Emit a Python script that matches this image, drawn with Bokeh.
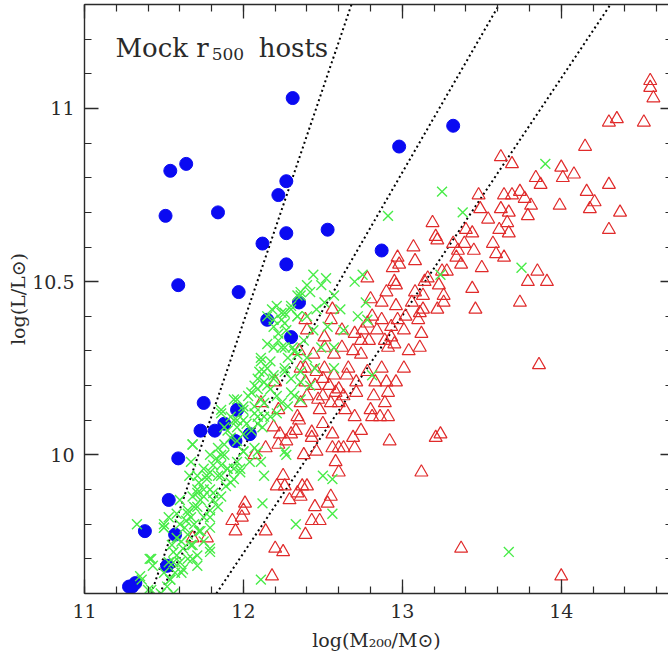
from bokeh.plotting import figure
from bokeh.models import LinearAxis, FixedTicker, CustomJSTickFormatter, Label
from bokeh.embed import file_html
from bokeh.resources import INLINE
import numpy as np

# ---------------- data ----------------
x_major_ticks = [11, 12, 13, 14]
y_major_ticks = [10, 10.5, 11]

blue_x = [12.31, 11.54, 11.64, 12.27, 12.22, 11.51, 11.84, 12.27, 12.53, 12.12,
          12.27, 11.59, 11.97, 12.35, 12.15, 13.32, 12.98, 12.87, 12.30, 11.75,
          11.96, 11.88, 11.73, 11.82, 11.95, 12.04, 11.59, 11.53, 11.38, 11.57,
          11.52, 11.28, 11.32, 11.30]
blue_y = [11.03, 10.82, 10.84, 10.79, 10.75, 10.69, 10.70, 10.64, 10.65, 10.61,
          10.55, 10.49, 10.47, 10.44, 10.39, 10.95, 10.89, 10.59, 10.34, 10.15,
          10.13, 10.09, 10.07, 10.07, 10.04, 10.06, 9.99, 9.87, 9.78, 9.77,
          9.68, 9.62, 9.63, 9.62]

green_x = [11.33, 11.41, 11.43, 11.36, 11.50, 11.53, 11.58, 11.60, 11.65, 11.68,
           11.71, 11.73, 11.75, 11.72, 11.69, 11.67, 11.64, 11.60, 11.65, 11.68,
           11.62, 11.56, 11.60, 11.57, 11.54, 11.52, 11.48, 11.42, 11.79, 11.79,
           11.84, 11.81, 11.79, 11.77, 11.79, 11.84, 11.86, 11.83, 11.88, 11.90,
           11.92, 11.89, 11.86, 11.75, 11.71, 11.67, 11.66, 11.79, 11.84, 11.88,
           11.92, 11.96, 12.00, 12.05, 12.09, 12.07, 12.00, 11.96, 11.98, 11.94,
           12.11, 12.13, 12.12, 12.11, 12.27, 12.33, 11.94, 12.00, 11.90, 11.96,
           12.12, 12.17, 11.72, 11.53, 11.58, 11.55, 11.50, 11.56, 11.71, 11.79,
           11.68, 11.75,
           12.34, 12.21, 12.26, 12.30, 12.34, 12.24, 12.19, 12.27, 12.22, 12.26,
           12.31, 12.19, 12.28, 12.34, 12.11, 12.15, 12.10, 12.19, 12.26, 12.30,
           12.13, 12.09, 12.17, 12.05, 11.96, 12.00, 12.07, 12.13, 12.21, 12.30,
           12.28, 12.21, 11.86, 11.92, 12.09, 12.15, 12.18,
           12.44, 12.52, 12.40, 12.49, 12.36, 12.42, 12.57, 12.70, 12.75, 12.61,
           12.51, 12.46, 12.40, 12.44, 12.53, 12.38, 12.49, 12.40, 12.45, 12.57,
           12.72, 12.77, 12.78, 13.24, 12.36, 12.42, 12.36, 12.81, 12.63,
           13.90, 13.25, 12.91, 13.38, 13.75,
           13.67, 12.56, 12.56, 12.57, 12.50, 11.50, 11.35, 11.40, 11.68, 11.86,
           12.26, 12.04, 12.09, 11.62,
           12.36, 12.30, 12.24, 12.19, 12.26, 12.34, 12.22, 12.15, 12.24, 12.32,
           12.11, 12.17, 12.13, 12.09, 12.19, 12.26, 12.07, 12.15, 12.03, 12.11,
           12.00, 12.07, 11.94, 11.96, 12.13, 12.24, 12.32, 12.02, 11.88, 12.36,
           11.68, 11.86, 11.81, 11.90, 11.77, 11.86, 11.94, 11.71, 11.75, 11.81,
           11.71, 11.65, 11.75, 11.79, 11.63, 11.69, 11.73, 11.61, 11.67, 11.58,
           11.65, 11.56, 11.61, 11.54, 11.42, 11.50, 11.98, 12.00, 11.79, 11.71]
green_y = [9.80, 9.70, 9.68, 9.64, 9.79, 9.82, 9.83, 9.87, 9.84, 9.88,
           9.89, 9.87, 9.90, 9.92, 9.85, 9.82, 9.81, 9.80, 9.77, 9.74,
           9.73, 9.72, 9.69, 9.66, 9.64, 9.62, 9.60, 9.61, 9.82, 9.79,
           9.85, 9.87, 9.90, 9.93, 9.95, 9.94, 9.97, 9.99, 10.00, 9.96,
           9.92, 9.91, 9.88, 9.96, 9.94, 9.98, 9.94, 10.00, 10.02, 10.03,
           10.05, 10.04, 10.06, 10.07, 10.09, 10.02, 10.01, 9.98, 9.95, 9.96,
           9.98, 9.94, 9.86, 9.64, 10.00, 9.80, 10.10, 10.10, 10.07, 10.08,
           10.08, 10.11, 9.78, 9.69, 9.76, 9.74, 9.66, 9.60, 9.71, 9.73,
           9.70, 9.75,
           10.46, 10.43, 10.41, 10.42, 10.40, 10.39, 10.37, 10.36, 10.33, 10.31,
           10.31, 10.31, 10.28, 10.29, 10.27, 10.25, 10.24, 10.23, 10.25, 10.22,
           10.21, 10.19, 10.19, 10.18, 10.16, 10.14, 10.14, 10.15, 10.17, 10.18,
           10.14, 10.12, 10.12, 10.11, 10.11, 10.40, 10.42,
           10.52, 10.51, 10.49, 10.49, 10.46, 10.47, 10.46, 10.50, 10.52, 10.42,
           10.44, 10.42, 10.40, 10.36, 10.37, 10.33, 10.31, 10.28, 10.25, 10.25,
           10.40, 10.44, 10.39, 10.52, 10.21, 10.20, 10.16, 10.23, 10.36,
           10.84, 10.76, 10.69, 10.70, 10.54,
           9.72, 9.93, 9.83, 10.31, 9.94, 9.80, 9.65, 9.61, 10.03, 10.13,
           10.01, 9.98, 10.01, 9.67,
           10.47, 10.43, 10.41, 10.39, 10.38, 10.40, 10.35, 10.32, 10.31, 10.30,
           10.28, 10.27, 10.24, 10.22, 10.22, 10.24, 10.20, 10.20, 10.17, 10.16,
           10.13, 10.12, 10.16, 10.10, 10.11, 10.15, 10.17, 10.09, 10.08, 10.24,
           10.03, 10.00, 9.97, 9.96, 9.94, 9.94, 9.93, 9.90, 9.88, 9.89,
           9.85, 9.83, 9.82, 9.84, 9.79, 9.80, 9.78, 9.75, 9.74, 9.71,
           9.70, 9.69, 9.66, 9.64, 9.70, 9.79, 9.96, 10.01, 9.72, 9.68]

red_x = [13.07, 13.22, 13.32, 13.39, 13.57, 13.45, 13.59, 12.97, 13.08, 13.35,
         13.34, 13.37, 13.50, 12.98, 12.94, 13.25, 13.28, 12.78, 12.95, 13.16,
         13.14, 13.23, 13.08, 13.13, 13.44, 12.90, 12.96, 13.26, 12.80, 12.87,
         12.96, 13.06, 13.26, 13.22, 13.13, 13.11, 13.46, 12.56, 12.81, 12.87,
         12.97, 13.02, 13.10, 12.39, 12.55, 12.78, 12.93, 13.01, 13.12, 12.62,
         12.70, 12.75, 12.84, 12.93, 12.74, 12.79, 12.89, 12.95, 12.51, 12.40,
         13.04, 13.11, 12.51, 12.62, 12.69, 12.57, 12.74, 12.44, 12.91, 13.01,
         12.87, 12.51, 12.66, 12.78, 12.39, 12.46, 12.65, 12.57, 12.50, 12.83,
         12.90, 12.96, 12.71, 12.39, 12.45, 12.54, 12.60, 12.71, 12.58, 12.91,
         12.40, 12.50, 12.63, 12.82, 12.47, 12.55, 12.60, 12.80, 12.89, 12.64,
         12.48, 12.81, 12.86, 12.91, 12.70,
         14.56, 14.56, 14.58, 14.30, 14.35, 14.52, 14.15, 13.62, 13.69, 14.00,
         14.01, 14.08, 13.84, 13.87, 14.30, 13.48, 13.64, 13.69, 13.74, 13.77,
         14.16, 14.21, 14.18, 14.37, 13.81, 13.79, 13.99, 14.30, 13.49, 13.62,
         13.67, 13.19, 13.21, 13.54, 13.40, 13.44, 13.61, 13.67, 13.66, 13.64,
         13.79, 13.85, 13.91, 13.74,
         13.86, 14.00,
         12.50, 12.43, 12.43, 12.56, 12.74, 12.69, 12.92, 13.21, 13.24, 12.46,
         12.56, 12.60, 12.63, 12.70, 12.38, 12.58, 12.60, 13.12, 12.40, 12.55,
         12.53, 12.45, 12.43, 12.48, 12.39, 13.37,
         12.19, 12.23, 12.30, 12.33, 12.27, 12.22, 12.14, 12.07, 12.25, 12.21,
         12.26, 12.37, 12.34, 12.36, 12.29, 12.01, 12.00, 11.99, 11.93, 11.95,
         11.68, 11.77, 12.14, 12.20, 12.25, 12.18, 12.35,
         12.35, 12.36, 12.20, 12.11, 12.22, 12.36, 12.34]
red_y = [10.60, 10.62, 10.61, 10.61, 10.61, 10.59, 10.58, 10.57, 10.56, 10.59,
         10.57, 10.55, 10.54, 10.55, 10.54, 10.53, 10.53, 10.51, 10.50, 10.51,
         10.50, 10.49, 10.47, 10.46, 10.48, 10.47, 10.49, 10.46, 10.45, 10.44,
         10.43, 10.44, 10.44, 10.42, 10.42, 10.41, 10.42, 10.42, 10.40, 10.39,
         10.39, 10.40, 10.39, 10.39, 10.39, 10.38, 10.37, 10.36, 10.35, 10.36,
         10.35, 10.36, 10.36, 10.34, 10.33, 10.33, 10.33, 10.32, 10.34, 10.36,
         10.30, 10.31, 10.31, 10.31, 10.30, 10.29, 10.29, 10.29, 10.31, 10.25,
         10.25, 10.25, 10.25, 10.24, 10.25, 10.24, 10.23, 10.23, 10.22, 10.21,
         10.21, 10.21, 10.21, 10.21, 10.20, 10.20, 10.19, 10.18, 10.18, 10.18,
         10.17, 10.17, 10.17, 10.17, 10.16, 10.15, 10.15, 10.13, 10.15, 10.13,
         10.13, 10.11, 10.11, 10.11, 10.11,
         11.08, 11.06, 11.03, 10.96, 10.97, 10.96, 10.89, 10.86, 10.84, 10.83,
         10.80, 10.81, 10.80, 10.78, 10.78, 10.75, 10.75, 10.75, 10.76, 10.74,
         10.76, 10.73, 10.71, 10.70, 10.72, 10.69, 10.72, 10.65, 10.71, 10.71,
         10.70, 10.67, 10.63, 10.68, 10.65, 10.64, 10.65, 10.64, 10.67, 10.57,
         10.50, 10.53, 10.50, 10.44,
         10.26, 9.65,
         10.09, 10.065, 10.05, 10.06, 10.07, 10.05, 10.04, 10.05, 10.06, 10.01,
         10.02, 10.02, 10.02, 10.02, 10.00, 9.98, 9.95, 9.95, 9.91, 9.88,
         9.86, 9.85, 9.81, 9.81, 9.77, 9.73,
         10.08, 10.06, 10.06, 10.07, 10.04, 10.03, 10.02, 10.00, 9.94, 9.91,
         9.91, 9.91, 9.89, 9.88, 9.87, 9.86, 9.84, 9.82, 9.81, 9.78,
         9.76, 9.76, 9.78, 9.73, 9.72, 9.65, 10.10,
         10.30, 10.25, 10.21, 10.15, 10.13, 10.15, 10.11]

# dotted reference lines (end points)
line_x0 = [11.42, 11.47, 11.83]
line_y0 = [9.60, 9.60, 9.60]
line_x1 = [12.68, 13.61, 14.31]
line_y1 = [11.30, 11.30, 11.30]

# ---------------- figure ----------------
FONT = "DejaVu Serif"
INK = "#2a2a2a"

p = figure(width=668, height=658, x_range=(11, 14.675), y_range=(9.6, 11.3),
           output_backend="svg", toolbar_location=None,
           min_border_left=84, min_border_right=0, min_border_top=4, min_border_bottom=65)
p.outline_line_color = None
p.grid.visible = False
p.background_fill_color = "white"
p.border_fill_color = "white"

x_minor = [round(v, 1) for v in np.arange(11.0, 14.81, 0.2)]
y_minor = [round(v, 1) for v in np.arange(9.6, 11.31, 0.1)]
xt = FixedTicker(ticks=x_major_ticks, minor_ticks=x_minor)
yt = FixedTicker(ticks=y_major_ticks, minor_ticks=y_minor)

def style(ax, major_in=14, minor_in=7):
    ax.axis_line_color = INK
    ax.axis_line_width = 1.4
    ax.major_tick_in = major_in
    ax.major_tick_out = 0
    ax.minor_tick_in = minor_in
    ax.minor_tick_out = 0
    ax.major_tick_line_color = INK
    ax.minor_tick_line_color = INK
    ax.major_tick_line_width = 1.3
    ax.minor_tick_line_width = 1.2
    ax.major_label_text_font = FONT
    ax.major_label_text_font_size = "19px"
    ax.major_label_text_color = INK
    ax.axis_label_text_font = FONT
    ax.axis_label_text_font_size = "19px"
    ax.axis_label_text_font_style = "normal"
    ax.axis_label_text_color = INK

fmt = CustomJSTickFormatter(code="return String(tick);")
blank = CustomJSTickFormatter(code="return '';")

xa = p.xaxis[0]
xa.ticker = xt
xa.formatter = fmt
style(xa)
xa.major_label_standoff = 10
xa.axis_label = "log(M\u2082\u2080\u2080/M\u2299)"
xa.axis_label_standoff = 8

ya = p.yaxis[0]
ya.ticker = yt
ya.formatter = fmt
style(ya)
ya.major_label_standoff = 10
ya.axis_label = "log(L/L\u2299)"
ya.axis_label_standoff = 0

top = LinearAxis(ticker=xt, formatter=blank)
style(top)
top.major_label_standoff = 0
top.major_label_text_font_size = "0px"
p.add_layout(top, "above")

right = LinearAxis(ticker=yt, formatter=blank)
style(right, major_in=8, minor_in=3)
right.axis_line_color = None
right.major_label_standoff = 0
right.major_label_text_font_size = "0px"
p.add_layout(right, "right")

# dotted lines
p.segment(x0=line_x0, y0=line_y0, x1=line_x1, y1=line_y1,
          line_color="black", line_width=2, line_dash="2 3")

# markers
p.scatter(blue_x, blue_y, marker="circle", size=13, fill_color="#0a0af2",
          line_color="#0a0af2")
p.scatter(red_x, red_y, marker="triangle", size=13, fill_color=None,
          line_color="#e02a2a", line_width=1.2)
p.scatter(green_x, green_y, marker="x", size=14, line_color="#48ec48",
          line_width=1.4)

# title text
p.add_layout(Label(x=11.195, y=11.175, text="Mock r", text_font=FONT,
                   text_font_size="26px", text_color=INK, text_baseline="alphabetic"))
p.add_layout(Label(x=11.80, y=11.157, text="500", text_font=FONT,
                   text_font_size="17px", text_color=INK, text_baseline="alphabetic"))
p.add_layout(Label(x=12.096, y=11.175, text="hosts", text_font=FONT,
                   text_font_size="26px", text_color=INK, text_baseline="alphabetic"))

open("out.html", "w").write(file_html(p, INLINE))
